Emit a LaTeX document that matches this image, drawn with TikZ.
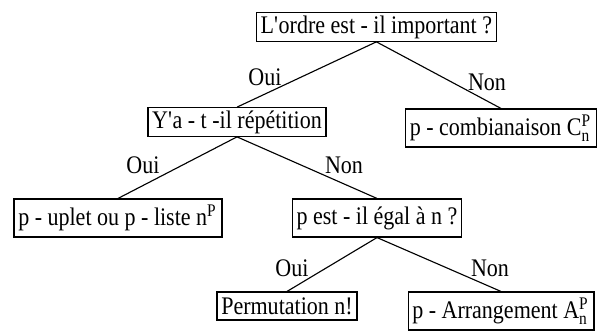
\documentclass[tikz,border=0pt]{standalone}
\usepackage{fontspec}
\setmainfont{Liberation Serif}[FakeStretch=0.87]
\begin{document}
\begin{tikzpicture}[
    choix/.style={draw,line width=0.8pt,inner xsep=3pt,inner ysep=2pt,minimum height=0.7cm,font=\fontsize{18}{20}\selectfont},
    haut/.style={choix,minimum height=0.95cm},
    rep/.style={font=\fontsize{18}{20}\selectfont,inner sep=0pt}]
        \useasboundingbox (0,0) rectangle (14.925,-8.25);
        % les questions et les resultats
        \node[choix] (ordre) at (9.41,-0.675) {L\textquotesingle ordre est - il important ?};
        \node[choix] (repet) at (5.925,-3.05) {Y\textquotesingle a - t -il répétition};
        \node[haut] (combi) at (12.525,-3.2) {p - combianaison C$^{\mathrm{P}}_{\mathrm{n}}$};
        \node[haut] (uplet) at (2.95,-5.45) {p - uplet ou p - liste n$^{\mathrm{P}}$};
        \node[haut] (egal) at (9.425,-5.45) {p est - il égal à n ?};
        \node[choix] (perm) at (7.175,-7.65) {Permutation n!};
        \node[haut] (arran) at (12.525,-7.775) {p - Arrangement A$^{\mathrm{P}}_{\mathrm{n}}$};
        % les branches
        \draw[line width=0.8pt] (ordre.south)--(repet.north);
        \draw[line width=0.8pt] (ordre.south)--(combi.north);
        \draw[line width=0.8pt] (repet.south)--(uplet.north);
        \draw[line width=0.8pt] (repet.south)--(egal.north);
        \draw[line width=0.8pt] (egal.south)--(perm.north);
        \draw[line width=0.8pt] (egal.south)--(arran.north);
        % oui / non
        \node[rep] (oui1) at (6.625,-1.925) {Oui};
        \node[rep] (non1) at (12.175,-2.05) {Non};
        \node[rep] (oui2) at (3.575,-4.125) {Oui};
        \node[rep] (non2) at (8.6,-4.125) {Non};
        \node[rep] (oui3) at (7.3,-6.7) {Oui};
        \node[rep] (non3) at (12.25,-6.7) {Non};
    \end{tikzpicture}
\end{document}
